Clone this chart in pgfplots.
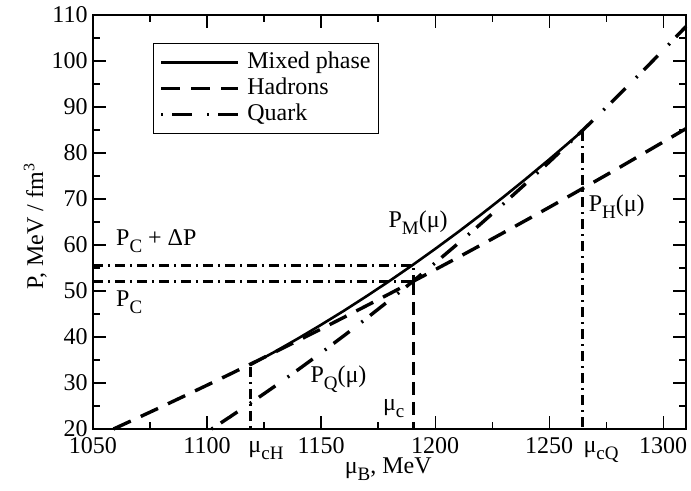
\documentclass[border=0pt]{standalone}
\usepackage{fontspec}
\setmainfont{Liberation Serif}
\usepackage{pgfplots}
\pgfplotsset{compat=1.18}
\newcommand\sub[1]{\raisebox{-3.5pt}{\fontsize{9.5}{10}\selectfont #1}}
\begin{document}
\fontsize{12}{14}\selectfont
\begin{tikzpicture}
\begin{axis}[
  at={(0,0)}, anchor=south west,
  scale only axis, width=296.5pt, height=207pt,
  xmin=1050, xmax=1310, ymin=20, ymax=110,
  xtick={1050,1100,...,1300}, ytick={20,30,...,110},
  minor x tick num=1, minor y tick num=1,
  tick align=inside, tick pos=both,
  major tick length=6.3pt, minor tick length=3.3pt,
  axis line style={line width=0.6pt},
  tick style={line width=0.6pt, black},
  /pgf/number format/1000 sep={},
  /pgf/number format/assume math mode=true,
  tick label style={font=\fontsize{12}{14}\selectfont},
  yticklabel style={xshift=1.5pt},
  label style={font=\fontsize{12}{14}\selectfont},
  xlabel={μ\sub{B}, MeV},
  ylabel={P, MeV / fm\textsuperscript{3}},
  xlabel style={at={(axis description cs:0.498,-0.1087)}, anchor=base},
  ylabel style={at={(axis description cs:-0.0843,0.49)}, anchor=base},
  clip=false,
  legend style={at={(axis description cs:0.1007,0.933)}, anchor=north west,
    draw=black, line width=0.6pt, inner xsep=3pt, inner ysep=3pt, row sep=0pt,
    column sep=3pt,
    font=\fontsize{12}{14}\selectfont,
    nodes={inner sep=1pt, text height=8.5pt, text depth=2.5pt},
    cells={anchor=west}},
  legend image code/.code={\draw[#1] (0pt,0pt) -- (38.3pt,0pt);},
]
% reference lines
\addplot[black, line width=1.5pt, dash pattern=on 5pt off 2.5pt on 1pt off 2.5pt, forget plot]
  coordinates {(1050,55.6) (1190.5,55.6) (1190.5,52)};
\addplot[black, line width=1.5pt, dash pattern=on 5pt off 2.5pt on 1pt off 2.5pt, forget plot]
  coordinates {(1050,52) (1190.5,52)};
\addplot[black, line width=1.4pt, dash pattern=on 6.5pt off 3.5pt, forget plot]
  coordinates {(1190.5,52) (1190.5,20)};
\addplot[black, line width=1.5pt, dash pattern=on 5pt off 2.5pt on 1pt off 2.5pt, forget plot]
  coordinates {(1119.2,33.5) (1119.2,20)};
\addplot[black, line width=1.5pt, dash pattern=on 5pt off 2.5pt on 1pt off 2.5pt, forget plot]
  coordinates {(1264.8,84.7) (1264.8,20)};
% mixed phase
\addplot[black, line width=1.3pt] coordinates {
 (1119,33.90) (1130,36.87) (1140,39.70) (1150,42.65) (1160,45.70) (1170,48.89)
 (1180,52.18) (1190,55.60) (1200,59.14) (1210,62.79) (1220,66.56) (1230,70.45)
 (1240,74.46) (1250,78.59) (1260,82.83) (1265,85.00)};
\addlegendentry{Mixed phase}
% hadrons
\addplot[black, line width=1.7pt, dash pattern=on 9.5pt off 5.5pt] coordinates {
 (1059,20.00) (1070,22.51) (1080,24.81) (1090,27.16) (1100,29.52) (1110,31.91)
 (1119,34.09) (1130,36.78) (1140,39.24) (1150,41.74) (1160,44.27) (1170,46.82)
 (1180,49.39) (1190,52.00) (1200,54.63) (1210,57.28) (1220,59.97) (1230,62.68)
 (1240,65.42) (1250,68.18) (1260,70.97) (1270,73.79) (1280,76.62) (1290,79.50)
 (1300,82.39) (1310,85.30)};
\addlegendentry{Hadrons}
% quark
\addplot[black, line width=1.7pt, dash pattern=on 1pt off 4.5pt on 10pt off 7.5pt] coordinates {
 (1102,20.00) (1110,22.61) (1120,25.95) (1130,29.39) (1140,32.92) (1150,36.54)
 (1160,40.27) (1170,44.08) (1180,48.00) (1190,52.00) (1200,56.10) (1210,60.30)
 (1220,64.59) (1230,68.98) (1240,73.46) (1250,78.03) (1260,82.71) (1270,87.47)
 (1280,92.34) (1290,97.29) (1300,102.34) (1310,107.50)};
\addlegendentry{Quark}
% annotations
\node[anchor=base west, inner sep=0pt] at (axis cs:1060,59.8) {P\sub{C} + ΔP};
\node[anchor=base west, inner sep=0pt] at (axis cs:1060,46.6) {P\sub{C}};
\node[anchor=base west, inner sep=0pt] at (axis cs:1179.4,63.9) {P\sub{M}(μ)};
\node[anchor=base west, inner sep=0pt] at (axis cs:1145.2,30.0) {P\sub{Q}(μ)};
\node[anchor=base west, inner sep=0pt] at (axis cs:1177.0,24.1) {μ\sub{c}};
\node[anchor=base west, inner sep=0pt] at (axis cs:1267.2,67.2) {P\sub{H}(μ)};
\node[anchor=base west, inner sep=0pt] at (axis cs:1118,14.8) {μ\sub{cH}};
\node[anchor=base west, inner sep=0pt] at (axis cs:1264.9,14.8) {μ\sub{cQ}};
\end{axis}
\pgfresetboundingbox
\path[use as bounding box] (-46.5pt,-31pt) rectangle (299pt,214.5pt);
\end{tikzpicture}
\end{document}
